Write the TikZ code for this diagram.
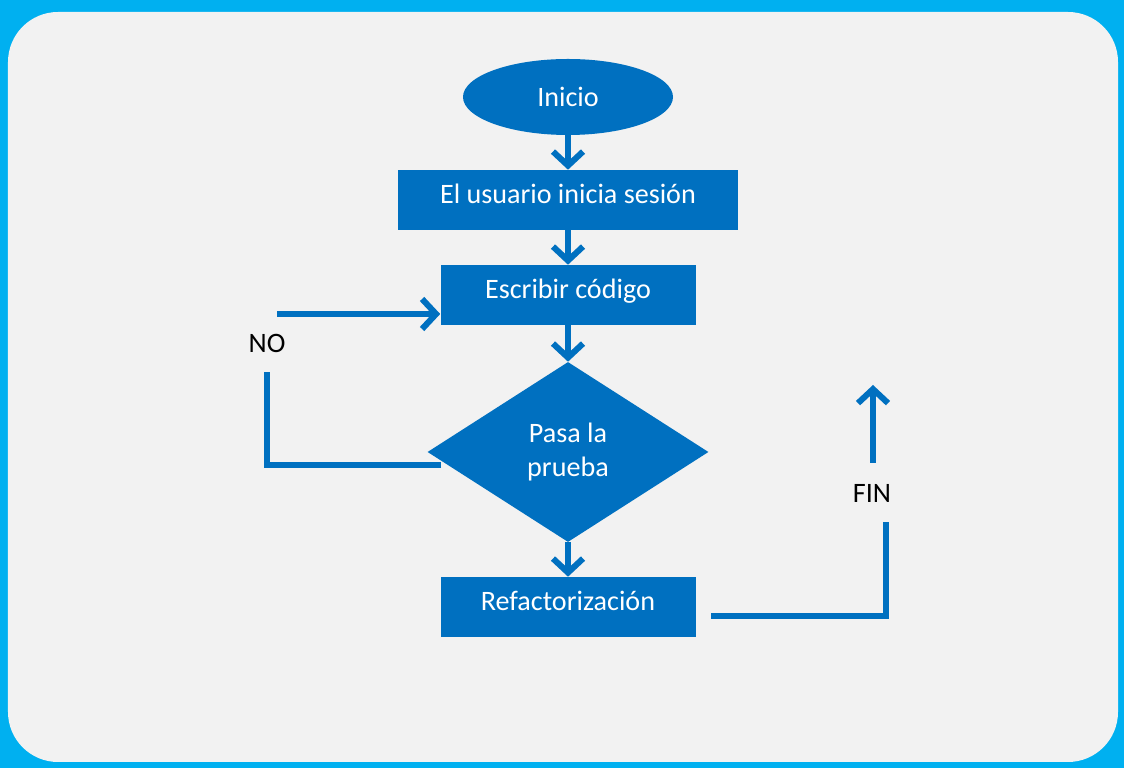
\documentclass[tikz,border=0pt]{standalone}
\usepackage{fontspec}
\setmainfont{Carlito}
\usetikzlibrary{shapes.geometric,arrows.meta}
\definecolor{frameBlue}{HTML}{00B0F0}
\definecolor{panelGray}{HTML}{F2F2F2}
\definecolor{shapeBlue}{HTML}{0070C0}
\newcommand{\flowFont}{\fontsize{20}{24}\selectfont}

\begin{document}
\begin{tikzpicture}[%%
  boxStyle/.style={rectangle,fill=shapeBlue,text=white,minimum height=1.5cm,inner sep=0pt,text height=0.6cm,text depth=0.4cm,font=\flowFont},%%
  startStyle/.style={ellipse,fill=shapeBlue,text=white,minimum width=5.25cm,minimum height=1.9cm,inner sep=0pt,font=\flowFont},%%
  testStyle/.style={diamond,fill=shapeBlue,text=white,minimum width=7.025cm,minimum height=4.5cm,inner sep=0pt,align=center,font=\flowFont},%%
  arrowStyle/.style={-{Straight Barb[length=0.35cm,width=0.75cm]},shapeBlue,line width=4.3pt},%%
  lineStyle/.style={-,shapeBlue,line width=4.3pt,line join=miter},%%
  labelStyle/.style={text=black,font=\flowFont}
]
%%
%% Frame and panel.
\fill[frameBlue] (0,0) rectangle (28.1,19.2);
\fill[panelGray,rounded corners=1.25cm] (0.2,0.15) rectangle (27.95,18.9);
\useasboundingbox (0,0) rectangle (28.1,19.2);
%%
%% The steps.
\node[startStyle] (inicio) at (14.2,16.775) {Inicio};
\node[boxStyle,minimum width=8.5cm] (sesion) at (14.2,14.2) {El usuario inicia sesión};
\node[boxStyle,minimum width=6.375cm] (codigo) at (14.2,11.825) {Escribir código};
\node[testStyle] (prueba) at (14.2,7.9) {Pasa la\\prueba};
\node[boxStyle,minimum width=6.375cm] (refactor) at (14.2,4.025) {Refactorización};
%%
%% Labels of the two loose ends.
\node[labelStyle] (no) at (6.675,10.625) {NO};
\node[labelStyle] (fin) at (21.8,6.875) {FIN};
%%
%% Free ends of the side lines.
\coordinate (noStart) at (11.025,7.575);
\coordinate (noCorner) at (6.675,7.575);
\coordinate (noEnd) at (6.675,9.9);
\coordinate (noBack) at (6.925,11.35);
\coordinate (finStart) at (17.775,3.8);
\coordinate (finCorner) at (22.15,3.8);
\coordinate (finEnd) at (22.15,6.15);
\coordinate (finLow) at (21.825,7.625);
\coordinate (finTop) at (21.825,9.575);
%%
%% Main flow.
\draw[arrowStyle] (inicio) -- (sesion);
\draw[arrowStyle] (sesion) -- (codigo);
\draw[arrowStyle] (codigo) -- (prueba);
\draw[arrowStyle] (prueba) -- (refactor);
%%
%% The NO loop.
\draw[lineStyle] (noStart) -- (noCorner) -- (noEnd);
\draw[arrowStyle] (noBack) -- (noBack -| codigo.west);
%%
%% The way out.
\draw[lineStyle] (finStart) -- (finCorner) -- (finEnd);
\draw[arrowStyle] (finLow) -- (finTop);
\end{tikzpicture}
\end{document}
